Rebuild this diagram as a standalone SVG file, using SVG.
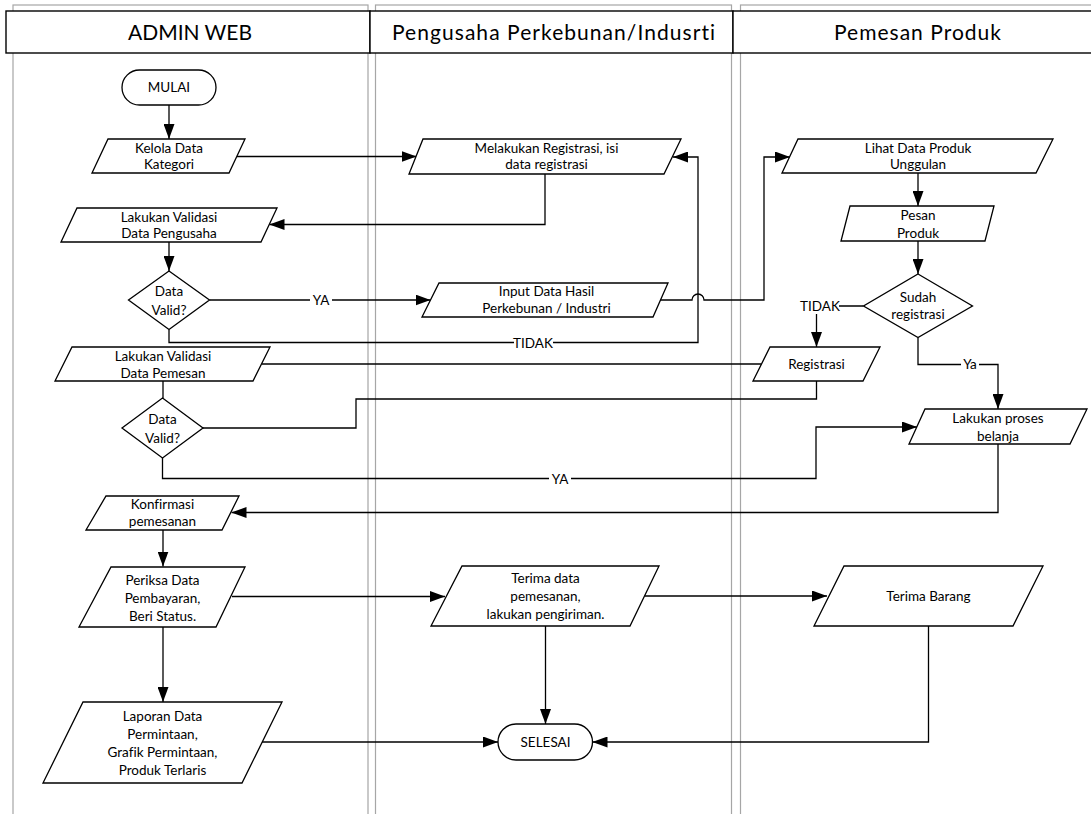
<svg xmlns="http://www.w3.org/2000/svg" width="1091" height="814" viewBox="0 0 1091 814">
<style>
.lane{fill:none;stroke:#a6a6a6;stroke-width:1.2}
.hdr{fill:#fff;stroke:#000;stroke-width:1.4}
.ht{font-family:Lato,"Liberation Sans",sans-serif;font-size:21px;fill:#000;text-anchor:middle;font-variant-ligatures:none}
.sh{fill:#fff;stroke:#000;stroke-width:1.3}
.t{font-family:Lato,"Liberation Sans",sans-serif;font-size:13.5px;fill:#000;text-anchor:middle;font-variant-ligatures:none}
.c{fill:none;stroke:#000;stroke-width:1.3}
.a{marker-end:url(#arr)}
.lb{fill:#fff;stroke:none}
</style>
<defs>
<marker id="arr" markerUnits="userSpaceOnUse" markerWidth="15" markerHeight="11" viewBox="0 0 15 11" refX="15" refY="5.5" orient="auto">
<path d="M0,0 L15,5.5 L0,11 z" fill="#000"/>
</marker>
</defs>
<rect width="1091" height="814" fill="#fff"/>
<g id="lanes">
<rect class="lane" x="13" y="5" width="355" height="830"/>
<rect class="lane" x="375.5" y="5" width="356" height="830"/>
<rect class="lane" x="740.5" y="5" width="380" height="830"/>
<rect class="hdr" x="6" y="11" width="364" height="42"/>
<rect class="hdr" x="370" y="11" width="363" height="42"/>
<rect class="hdr" x="733" y="11" width="380" height="42"/>
<text class="ht" x="190" y="39.5" textLength="124" lengthAdjust="spacing">ADMIN WEB</text>
<text class="ht" x="553.5" y="39.5" textLength="323" lengthAdjust="spacing">Pengusaha Perkebunan/Indusrti</text>
<text class="ht" x="917.5" y="39.5" textLength="167" lengthAdjust="spacing">Pemesan Produk</text>
</g>
<g id="connectors">
<path class="c a" d="M169,105 V139"/>
<path class="c a" d="M237,156.5 H416.5"/>
<path class="c a" d="M545,174 V224.5 H269.5"/>
<path class="c a" d="M169,242 V271"/>
<path class="c a" d="M209.5,300 H430.5"/>
<path class="c a" d="M169,329.5 V342.5 H698 V157 H673"/>
<path class="c a" d="M660,300 H692 A6,6 0 0 1 704,300 H764 V157 H790"/>
<path class="c a" d="M918,173 V206"/>
<path class="c a" d="M918,241 V274"/>
<path class="c a" d="M863.5,306 H816.5 V347"/>
<path class="c a" d="M918,337.5 V364.5 H998 V409"/>
<path class="c" d="M262,364 H761"/>
<path class="c" d="M163,381 V398"/>
<path class="c" d="M816.5,381 V399 H356 V428 H203"/>
<path class="c a" d="M162.5,458 V478.5 H816 V427 H917"/>
<path class="c a" d="M998,444 V512.5 H231.5"/>
<path class="c a" d="M163,530 V566.5"/>
<path class="c a" d="M232,596.5 H445"/>
<path class="c a" d="M645,596 H827"/>
<path class="c a" d="M163,627 V702"/>
<path class="c a" d="M545.5,626 V724"/>
<path class="c a" d="M262,742 H498"/>
<path class="c a" d="M928.5,626 V742 H592.5"/>
<rect class="lb" x="310" y="293" width="22" height="14"/>
<text class="t" x="321" y="305">YA</text>
<rect class="lb" x="514" y="335" width="39" height="15"/>
<text class="t" x="533" y="347.5">TIDAK</text>
<rect class="lb" x="801" y="298" width="38" height="16"/>
<text class="t" x="820" y="311">TIDAK</text>
<rect class="lb" x="961" y="358" width="18" height="13"/>
<text class="t" x="970" y="369">Ya</text>
<rect class="lb" x="549" y="471" width="22" height="15"/>
<text class="t" x="560" y="483.5">YA</text>
</g>
<g id="mulai"><rect class="sh" x="122" y="70" width="94" height="35" rx="17.5"/><text class="t" x="169" y="92">MULAI</text></g>
<g id="kelola"><polygon class="sh" points="108,139 245,139 229,173 92,173"/><text class="t" x="169" y="152.5">Kelola Data</text><text class="t" x="169" y="169">Kategori</text></g>
<g id="validasi-pengusaha"><polygon class="sh" points="77,208 277,208 261,242 61,242"/><text class="t" x="169" y="221.5">Lakukan Validasi</text><text class="t" x="169" y="238">Data Pengusaha</text></g>
<g id="valid1"><polygon class="sh" points="169,271 209.5,300 169,329.5 128.5,300"/><text class="t" x="169" y="296">Data</text><text class="t" x="169" y="314.5">Valid?</text></g>
<g id="registrasi-pengusaha"><polygon class="sh" points="423,139 681,139 664,174 409,174"/><text class="t" x="546.5" y="152.5">Melakukan Registrasi, isi</text><text class="t" x="546.5" y="169">data registrasi</text></g>
<g id="input-data"><polygon class="sh" points="439,283 668,283 653,317 422,317"/><text class="t" x="546.5" y="296">Input Data Hasil</text><text class="t" x="546.5" y="313">Perkebunan / Industri</text></g>
<g id="lihat-produk"><polygon class="sh" points="798,139 1053,139 1036,173 782,173"/><text class="t" x="918" y="152.5">Lihat Data Produk</text><text class="t" x="918" y="169">Unggulan</text></g>
<g id="pesan-produk"><polygon class="sh" points="850,206 994,206 985,241 841,241"/><text class="t" x="918" y="220">Pesan</text><text class="t" x="918" y="237.5">Produk</text></g>
<g id="sudah-registrasi"><polygon class="sh" points="918,274 972.5,306 918,337.5 863.5,306"/><text class="t" x="918" y="302">Sudah</text><text class="t" x="918" y="318.5">registrasi</text></g>
<g id="validasi-pemesan"><polygon class="sh" points="72,347 270,347 253,381 55,381"/><text class="t" x="163" y="360.5">Lakukan Validasi</text><text class="t" x="163" y="377.5">Data Pemesan</text></g>
<g id="registrasi"><polygon class="sh" points="770,347 880,347 863,381 753,381"/><text class="t" x="816.5" y="368.5">Registrasi</text></g>
<g id="valid2"><polygon class="sh" points="162.5,398 203,428 162.5,458 122,428"/><text class="t" x="162.5" y="423.5">Data</text><text class="t" x="162.5" y="442.5">Valid?</text></g>
<g id="proses-belanja"><polygon class="sh" points="925,409 1087,409 1070,444 909,444"/><text class="t" x="998" y="422.5">Lakukan proses</text><text class="t" x="998" y="441">belanja</text></g>
<g id="konfirmasi"><polygon class="sh" points="106,496 239,496 222,530 86,530"/><text class="t" x="162.5" y="509">Konfirmasi</text><text class="t" x="162.5" y="526">pemesanan</text></g>
<g id="periksa"><polygon class="sh" points="111,567 245,567 216,627 79,627"/><text class="t" x="162.5" y="585">Periksa Data</text><text class="t" x="162.5" y="603">Pembayaran,</text><text class="t" x="162.5" y="621">Beri Status.</text></g>
<g id="terima-data"><polygon class="sh" points="462,566 659,566 630,626 431,626"/><text class="t" x="545.5" y="582.5">Terima data</text><text class="t" x="545.5" y="600.5">pemesanan,</text><text class="t" x="545.5" y="618.5">lakukan pengiriman.</text></g>
<g id="terima-barang"><polygon class="sh" points="844,566 1043,566 1013,626 814,626"/><text class="t" x="928.5" y="600.5">Terima Barang</text></g>
<g id="laporan"><polygon class="sh" points="83,702 282,702 242,783 43,783"/><text class="t" x="162.5" y="721">Laporan Data</text><text class="t" x="162.5" y="739">Permintaan,</text><text class="t" x="162.5" y="757">Grafik Permintaan,</text><text class="t" x="162.5" y="775">Produk Terlaris</text></g>
<g id="selesai"><rect class="sh" x="498" y="724" width="94.5" height="36" rx="18"/><text class="t" x="545.5" y="746.5">SELESAI</text></g>
</svg>
